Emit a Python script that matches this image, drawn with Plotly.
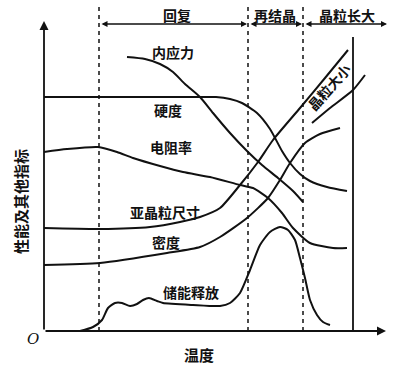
import plotly.graph_objects as go

# ---- data (arbitrary temperature units on x, property index on y) ----
stress_t = [83, 101, 116, 129, 141, 156, 169, 186, 203, 218, 234, 249, 259]
stress_v = [274, 272, 267, 259, 247, 234, 218, 198, 180, 166, 153, 140, 129]

hard_t = [0, 60, 120, 156, 172, 186, 198, 213, 226, 238, 246, 256, 266, 283, 303]
hard_v = [234, 234, 234, 234, 234, 232, 228, 218, 202, 180, 168, 157, 150, 144, 140]

resist_t = [0, 23, 54, 73, 89, 116, 139, 166, 196, 209, 224, 238, 249, 266, 289, 303]
resist_v = [179, 182, 184, 179, 173, 165, 159, 154, 146, 143, 133, 118, 103, 88, 83, 83]

subgrain_t = [0, 56, 106, 136, 156, 176, 196, 214, 229, 256, 281, 304]
subgrain_v = [103, 102, 104, 109, 114, 123, 146, 169, 191, 223, 253, 281]

density_t = [0, 56, 123, 156, 176, 203, 224, 236, 246, 261, 276, 296]
density_v = [66, 68, 78, 84, 94, 113, 133, 151, 168, 188, 197, 203]

energy_t = [36, 49, 58, 64, 71, 78, 86, 93, 99, 105, 113, 119, 149, 176, 186, 196,
            206, 216, 226, 236, 244, 251, 256, 261, 266, 273, 279, 286]
energy_v = [0, 4, 11, 23, 28, 28, 25, 27, 31, 33, 30, 28, 26, 25, 28, 38,
            61, 86, 99, 104, 101, 91, 73, 53, 31, 16, 9, 6]

grain_t = [268, 286, 309, 321]
grain_v = [208, 223, 241, 256]

stage_bounds = [55, 204, 259]      # recovery start, recrystallization start, grain growth start
stage_end = 343
limit_t = 309
stage_names = ["回复", "再结晶", "晶粒长大"]
stage_label_t = [133, 231, 303]

curve_labels = ["内应力", "硬度", "电阻率", "亚晶粒尺寸", "密度", "储能释放"]
curve_label_t = [129, 124, 127, 121, 122, 147]
curve_label_v = [279, 221, 184, 119, 89, 39]

FONT = "Noto Sans CJK SC, Noto Sans, sans-serif"
INK = "#111111"

fig = go.Figure()

for t, v in [(stress_t, stress_v), (hard_t, hard_v), (resist_t, resist_v),
             (subgrain_t, subgrain_v), (density_t, density_v),
             (energy_t, energy_v), (grain_t, grain_v)]:
    fig.add_trace(go.Scatter(x=t, y=v, mode="lines",
                             line=dict(color=INK, width=2, shape="spline", smoothing=0.6),
                             hoverinfo="skip", showlegend=False))

shapes = []
for b in stage_bounds:
    shapes.append(dict(type="line", x0=b, x1=b, y0=0, y1=328, xref="x", yref="y",
                       line=dict(color=INK, width=1.5, dash="4px,4px")))
shapes.append(dict(type="line", x0=limit_t, x1=limit_t, y0=0, y1=294, xref="x", yref="y",
                   line=dict(color=INK, width=1.8)))

annotations = []
# axes with arrows
annotations.append(dict(x=0, y=310, ax=0, ay=0, xref="x", yref="y", axref="x", ayref="y",
                        text="", showarrow=True, arrowhead=2, arrowsize=1, arrowwidth=1.8,
                        arrowcolor=INK, standoff=0, startstandoff=0))
annotations.append(dict(x=342, y=0, ax=0, ay=0, xref="x", yref="y", axref="x", ayref="y",
                        text="", showarrow=True, arrowhead=2, arrowsize=1, arrowwidth=1.8,
                        arrowcolor=INK, standoff=0, startstandoff=0))
# stage arrows
seg_start = [stage_bounds[0] + 1, stage_bounds[1] + 1, stage_bounds[2] + 1]
seg_end = [stage_bounds[1] - 1, stage_bounds[2] - 1, stage_end]
for s, e in zip(seg_start, seg_end):
    annotations.append(dict(x=e, y=307, ax=s, ay=307, xref="x", yref="y", axref="x", ayref="y",
                            text="", showarrow=True, arrowhead=2, arrowsize=0.8, arrowwidth=1.5,
                            arrowside="end+start", arrowcolor=INK, standoff=0, startstandoff=0))
for name, t in zip(stage_names, stage_label_t):
    annotations.append(dict(x=t, y=316, xref="x", yref="y", text=f"<b>{name}</b>", showarrow=False,
                            font=dict(family=FONT, size=14, color=INK)))
for name, t, v in zip(curve_labels, curve_label_t, curve_label_v):
    annotations.append(dict(x=t, y=v, xref="x", yref="y", text=f"<b>{name}</b>", showarrow=False,
                            font=dict(family=FONT, size=14, color=INK)))
annotations.append(dict(x=285, y=244, xref="x", yref="y", text="<b>晶粒大小</b>", showarrow=False,
                        textangle=-48, font=dict(family=FONT, size=14, color=INK)))
annotations.append(dict(x=-11, y=-8, xref="x", yref="y", text="<i>O</i>", showarrow=False,
                        font=dict(family="DejaVu Serif, serif", size=15, color=INK)))
annotations.append(dict(x=155, y=-23, xref="x", yref="y", text="<b>温度</b>", showarrow=False,
                        font=dict(family=FONT, size=15, color=INK)))
annotations.append(dict(x=-24, y=129, xref="x", yref="y", text="<b>性能及其他指标</b>", showarrow=False,
                        textangle=-90, font=dict(family=FONT, size=15, color=INK)))

fig.update_layout(
    width=395, height=374,
    margin=dict(l=0, r=0, t=0, b=0),
    paper_bgcolor="white", plot_bgcolor="white",
    xaxis=dict(range=[-44, 351], visible=False, fixedrange=True),
    yaxis=dict(range=[-43, 331], visible=False, fixedrange=True),
    shapes=shapes, annotations=annotations,
    showlegend=False,
)

# remove the default page margin so the figure fills the window exactly
fig.write_html("out.html",
               config={"displayModeBar": False, "staticPlot": True},
               post_script="document.body.style.margin='0';document.body.style.overflow='hidden';")
